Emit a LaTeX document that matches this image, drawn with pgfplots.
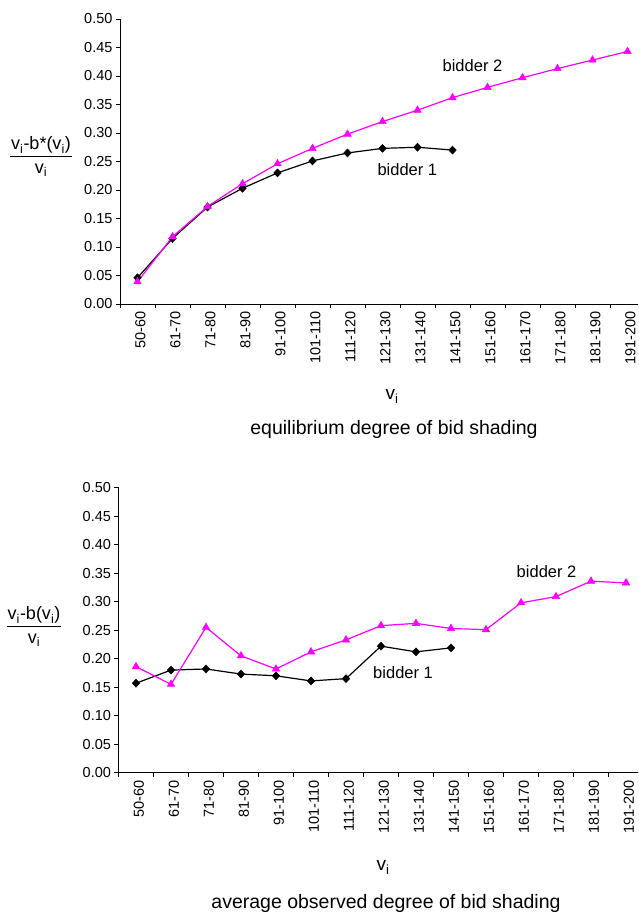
\documentclass[border=0pt]{standalone}
\usepackage{pgfplots}
\pgfplotsset{compat=1.18}
\usepackage{fontspec}
\setmainfont{Liberation Sans}
\definecolor{mag}{RGB}{255,0,255}
\newcommand{\vi}{v\textsubscript{i}}
\newcommand{\fsz}[1]{\fontsize{#1}{#1}\selectfont}

\pgfplotstableread{
x b1 b2
0 0.046 0.039
1 0.115 0.118
2 0.170 0.171
3 0.203 0.211
4 0.230 0.246
5 0.251 0.273
6 0.265 0.298
7 0.273 0.320
8 0.275 0.340
9 0.270 0.362
10 nan 0.380
11 nan 0.397
12 nan 0.413
13 nan 0.428
14 nan 0.443
}\eqdata

\pgfplotstableread{
x b1 b2
0 0.157 0.186
1 0.180 0.155
2 0.182 0.255
3 0.173 0.205
4 0.170 0.182
5 0.161 0.212
6 0.165 0.233
7 0.222 0.258
8 0.212 0.262
9 0.219 0.253
10 nan 0.251
11 nan 0.298
12 nan 0.309
13 nan 0.336
14 nan 0.333
}\obsdata

\pgfplotsset{
 bidaxis/.style={
  scale only axis, width=525pt, height=285pt, anchor=south west,
  xmin=-0.5, xmax=14.5, ymin=0, ymax=0.5, clip=false,
  axis x line*=bottom, axis y line*=left,
  axis line style={-, line width=0.8pt},
  xtick={0,...,14},
  xticklabels={50-60,61-70,71-80,81-90,91-100,101-110,111-120,121-130,131-140,141-150,151-160,161-170,171-180,181-190,191-200},
  major x tick style={draw=none},
  minor xtick={-0.5,0.5,...,14.5},
  ytick={0,0.05,0.1,0.15,0.2,0.25,0.3,0.35,0.4,0.45,0.5},
  tick align=outside, major tick length=4pt, minor tick length=4pt,
  every tick/.style={black, line width=0.8pt},
  x tick label style={rotate=90, anchor=east, font=\fsz{14.5}, yshift=-3pt},
  y tick label style={font=\fsz{14.5}},
  yticklabel style={/pgf/number format/.cd, fixed, fixed zerofill, precision=2, assume math mode=true},
  unbounded coords=jump,
 },
 b1style/.style={black, line width=1.2pt, mark=diamond*, mark size=4pt, mark options={solid, fill=black, xscale=1.25, line width=0.5pt}},
 b2style/.style={mag, line width=1.2pt, mark=triangle*, mark size=4.3pt, mark options={solid, fill=mag, line width=0.5pt}},
}

\begin{document}
\begin{tikzpicture}
\useasboundingbox (0pt,0pt) rectangle (638pt,913pt);
\clip (0pt,0pt) rectangle (638pt,913pt);

% top chart
\begin{axis}[bidaxis, at={(120pt,609pt)}]
\addplot[b1style] table[x=x, y=b1] {\eqdata};
\addplot[b2style] table[x=x, y=b2] {\eqdata};
\node[font=\fsz{16.5}] at (axis cs:9.57,0.419) {bidder 2};
\node[font=\fsz{16.5}] at (axis cs:7.71,0.235) {bidder 1};
\end{axis}

% bottom chart
\begin{axis}[bidaxis, at={(118.5pt,140.3pt)}]
\addplot[b1style] table[x=x, y=b1] {\obsdata};
\addplot[b2style] table[x=x, y=b2] {\obsdata};
\node[font=\fsz{16.5}] at (axis cs:11.73,0.353) {bidder 2};
\node[font=\fsz{16.5}] at (axis cs:7.63,0.175) {bidder 1};
\end{axis}

% y labels (fractions)
\node[font=\fsz{18}, inner sep=0pt] at (41pt,755pt) {\setlength{\tabcolsep}{1pt}\begin{tabular}{c}\vi-b*(\vi)\\[1pt]\hline\rule{0pt}{17pt}\vi\end{tabular}};
\node[font=\fsz{18}, inner sep=0pt] at (34pt,285pt) {\setlength{\tabcolsep}{1pt}\begin{tabular}{c}\vi-b(\vi)\\[1pt]\hline\rule{0pt}{17pt}\vi\end{tabular}};

% x labels and titles
\node[font=\fsz{19}, anchor=base, inner sep=0pt] at (392pt,513pt) {\vi};
\node[font=\fsz{19.5}, anchor=base, inner sep=0pt] at (394pt,478pt) {equilibrium degree of bid shading};
\node[font=\fsz{19}, anchor=base, inner sep=0pt] at (383pt,42.5pt) {\vi};
\node[font=\fsz{19.5}, anchor=base, inner sep=0pt] at (386pt,5pt) {average observed degree of bid shading};
\end{tikzpicture}
\end{document}
